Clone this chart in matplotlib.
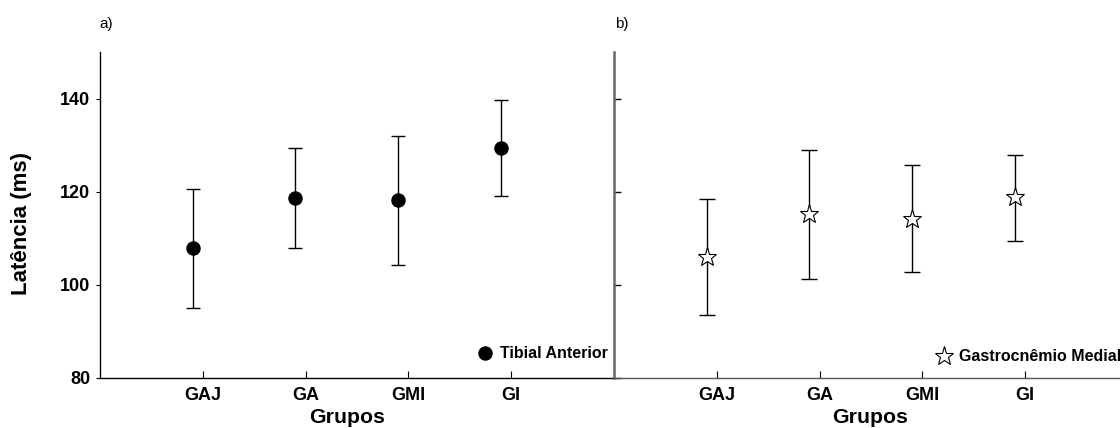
import matplotlib
matplotlib.use("Agg")
import matplotlib.pyplot as plt
import numpy as np

plt.rcParams['font.family'] = ['Liberation Sans', 'DejaVu Sans']

groups = ['GAJ', 'GA', 'GMI', 'GI']
yticks = [80, 100, 120, 140]

ta_mean = [107.8, 118.7, 118.2, 129.4]
ta_upper = [120.7, 129.4, 132.1, 139.8]
ta_lower = [95.1, 108.0, 104.2, 119.0]

gm_mean = [106.0, 115.3, 114.2, 118.9]
gm_upper = [118.4, 128.9, 125.7, 128.0]
gm_lower = [93.5, 101.3, 102.8, 109.4]

W, H = 1120, 428
fig = plt.figure(figsize=(W / 100, H / 100), dpi=100)

bottom = (H - 377.7) / H
top = (H - 52.3) / H
axw = 514 / W
ax1 = fig.add_axes([100 / W, bottom, axw, top - bottom])
ax2 = fig.add_axes([614 / W, bottom, axw, top - bottom])

x = np.arange(1, len(groups) + 1)
tick_off = 0.1


def panel(ax, mean, up, lo, marker, mfc, ms, mew, capsize, label, xlab_x):
    mean = np.array(mean)
    yerr = [mean - np.array(lo), np.array(up) - mean]
    ax.errorbar(x, mean, yerr=yerr, fmt='none', ecolor='black', elinewidth=1.0,
                capsize=capsize, capthick=1.0, zorder=2)
    ax.plot(x, mean, linestyle='none', marker=marker, markersize=ms, markerfacecolor=mfc,
            markeredgecolor='black', markeredgewidth=mew, zorder=3, label=label)
    ax.set_xlim(0.1, 5.1)
    ax.set_ylim(80, 150)
    ax.set_xticks(x + tick_off)
    ax.set_xticklabels(groups, fontsize=13, fontweight='bold')
    ax.set_yticks(yticks)
    ax.spines['top'].set_visible(False)
    ax.spines['right'].set_visible(False)
    ax.set_xlabel('Grupos', fontsize=15.3, fontweight='bold', va='top')
    ax.xaxis.set_label_coords(xlab_x, -0.0931)
    ax.tick_params(axis='x', direction='in', length=5, width=0.8, pad=6.5)


panel(ax1, ta_mean, ta_upper, ta_lower, 'o', 'black', 9.5, 0.9, 5, 'Tibial Anterior', 0.4815)
panel(ax2, gm_mean, gm_upper, gm_lower, '*', 'white', 14, 0.8, 6, 'Gastrocnêmio Medial', 0.498)

ax1.set_yticklabels([str(v) for v in yticks], fontsize=13, fontweight='bold')
ax1.tick_params(axis='y', direction='out', length=3, width=0.8, pad=4)
ax1.set_ylabel('Latência (ms)', fontsize=16, fontweight='bold')
ax1.yaxis.set_label_coords(-0.133, 0.474)
for s in ['left', 'bottom']:
    ax1.spines[s].set_color('black')
    ax1.spines[s].set_linewidth(1.0)

ax2.set_yticklabels([])
ax2.tick_params(axis='y', direction='in', length=5, width=1.0)
ax2.spines['left'].set_color('#666666')
ax2.spines['left'].set_linewidth(1.8)
ax2.spines['bottom'].set_color('#555555')
ax2.spines['bottom'].set_linewidth(1.0)

leg_kw = dict(frameon=False, numpoints=1, handlelength=1.0, handletextpad=0.45,
              borderpad=0, borderaxespad=0, loc='center left',
              prop={'size': 11.5, 'weight': 'bold'})
ax1.legend(bbox_to_anchor=(0.733, 0.073), **leg_kw)
ax2.legend(bbox_to_anchor=(0.626, 0.064), **leg_kw)

fig.text(99 / W, 1 - 24 / H, 'a)', fontsize=11, ha='left', va='center')
fig.text(615 / W, 1 - 24 / H, 'b)', fontsize=11, ha='left', va='center')

fig.savefig('out.png', dpi=100)
